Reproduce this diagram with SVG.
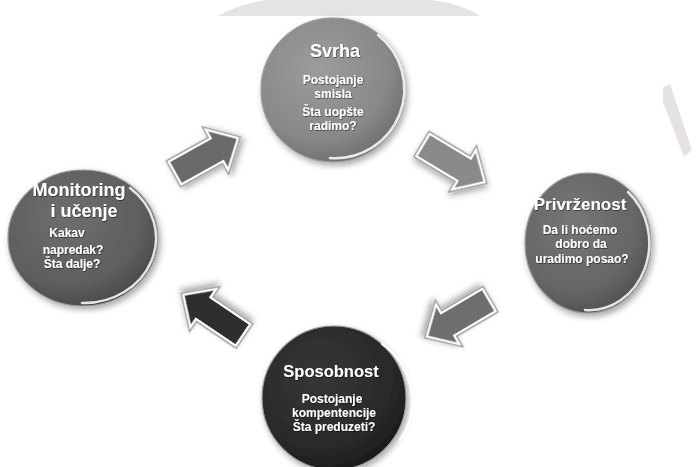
<svg xmlns="http://www.w3.org/2000/svg" xmlns:xlink="http://www.w3.org/1999/xlink" width="696" height="467" viewBox="0 0 696 467">
<style>
.t{font-family:"Liberation Sans",Arial,sans-serif;font-weight:bold;fill:#ffffff;text-anchor:middle;}
.h{font-size:18px;}
.s{font-size:12px;}
.rim{fill:none;stroke:#ffffff;stroke-width:2.5;stroke-opacity:0.85;stroke-linecap:round;}
.edge{stroke:#9a9a9a;stroke-width:1.2;}
.aout{fill:none;stroke:#9c9c9c;stroke-width:5;stroke-linejoin:miter;}
.ain{stroke:#ffffff;stroke-width:2.2;stroke-linejoin:miter;}
</style>
<defs>
<filter id="sh" x="-20%" y="-20%" width="140%" height="140%">
<feDropShadow dx="2" dy="3" stdDeviation="3" flood-color="#000" flood-opacity="0.35"/>
</filter>
<filter id="tsh" x="-10%" y="-30%" width="120%" height="160%">
<feDropShadow dx="0.6" dy="0.8" stdDeviation="0.6" flood-color="#000" flood-opacity="0.6"/>
</filter>
<radialGradient id="g1" cx="0.4" cy="0.35" r="0.7">
<stop offset="0" stop-color="#9c9c9c"/><stop offset="0.7" stop-color="#888888"/><stop offset="1" stop-color="#6c6c6c"/>
</radialGradient>
<radialGradient id="g2" cx="0.4" cy="0.35" r="0.7">
<stop offset="0" stop-color="#767676"/><stop offset="0.7" stop-color="#666666"/><stop offset="1" stop-color="#4e4e4e"/>
</radialGradient>
<radialGradient id="g3" cx="0.4" cy="0.35" r="0.7">
<stop offset="0" stop-color="#6e6e6e"/><stop offset="0.7" stop-color="#5e5e5e"/><stop offset="1" stop-color="#474747"/>
</radialGradient>
<radialGradient id="g4" cx="0.4" cy="0.35" r="0.7">
<stop offset="0" stop-color="#363636"/><stop offset="0.7" stop-color="#2a2a2a"/><stop offset="1" stop-color="#1a1a1a"/>
</radialGradient>
<path id="arr" d="M0,-13 L48,-13 L48,-23 L72,0 L48,23 L48,13 L0,13 Z"/>
</defs>
<rect width="696" height="467" fill="#ffffff"/>
<path d="M218,16 Q238,4 268,0 L432,0 Q462,4 480,16 Z" fill="#e4e4e4"/>
<polygon points="663,88 670,84 692,150 684,157 663,102" fill="#e6e2e2"/>

<g id="connectors">
<g transform="translate(175,173) rotate(-29)" filter="url(#sh)">
<use xlink:href="#arr" class="aout"/><use xlink:href="#arr" class="ain" fill="#6a6a6a"/>
</g>
<g transform="translate(423,145) rotate(31)" filter="url(#sh)">
<use xlink:href="#arr" class="aout"/><use xlink:href="#arr" class="ain" fill="#8a8a8a"/>
</g>
<g transform="translate(489,300) rotate(149.5)" filter="url(#sh)">
<use xlink:href="#arr" class="aout"/><use xlink:href="#arr" class="ain" fill="#6e6e6e"/>
</g>
<g transform="translate(243,335) rotate(-146)" filter="url(#sh)">
<use xlink:href="#arr" class="aout"/><use xlink:href="#arr" class="ain" fill="#2e2e2e"/>
</g>
</g>

<g id="svrha">
<ellipse cx="333" cy="90" rx="72" ry="72" fill="url(#g1)" class="edge" filter="url(#sh)"/>
<path d="M378,35 A69,69 0 0 1 330,158" class="rim"/>
<g filter="url(#tsh)">
<text class="t h" x="335" y="57">Svrha</text>
<text class="t s" x="333" y="84">Postojanje</text>
<text class="t s" x="333" y="98">smisla</text>
<text class="t s" x="333" y="116">Šta uopšte</text>
<text class="t s" x="333" y="130">radimo?</text>
</g>
</g>

<g id="privrzenost">
<ellipse cx="588" cy="243" rx="63" ry="70" fill="url(#g2)" class="edge" filter="url(#sh)"/>
<path d="M628,192 A60,67 0 0 1 585,310" class="rim"/>
<g filter="url(#tsh)">
<text class="t h" x="580" y="210" style="font-size:17px">Privrženost</text>
<text class="t s" x="580" y="234">Da li hoćemo</text>
<text class="t s" x="581" y="248">dobro da</text>
<text class="t s" x="582" y="263">uradimo posao?</text>
</g>
</g>

<g id="monitoring">
<ellipse cx="83" cy="238" rx="75" ry="68" fill="url(#g3)" class="edge" filter="url(#sh)"/>
<path d="M130,188 A72,65 0 0 1 82,303" class="rim"/>
<g filter="url(#tsh)">
<text class="t h" x="79" y="196">Monitoring</text>
<text class="t h" x="84" y="217">i učenje</text>
<text class="t s" x="67" y="237">Kakav</text>
<text class="t s" x="73" y="254">napredak?</text>
<text class="t s" x="72" y="268">Šta dalje?</text>
</g>
</g>

<g id="sposobnost">
<ellipse cx="334" cy="398" rx="72" ry="72" fill="url(#g4)" class="edge" filter="url(#sh)"/>
<path d="M382,344 A69,69 0 0 1 400,440" class="rim"/>
<g filter="url(#tsh)">
<text class="t h" x="331" y="377" style="font-size:16.5px">Sposobnost</text>
<text class="t s" x="332" y="403">Postojanje</text>
<text class="t s" x="334" y="417">kompentencije</text>
<text class="t s" x="334" y="431">Šta preduzeti?</text>
</g>
</g>
</svg>
